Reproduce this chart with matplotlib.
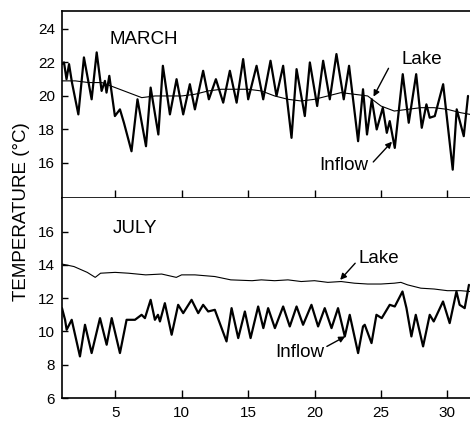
import matplotlib
matplotlib.use("Agg")
import matplotlib.pyplot as plt

plt.rcParams['font.family'] = ['Liberation Sans', 'DejaVu Sans']

# ---------------- data ----------------
march_inflow_day = [1.00, 1.15, 1.34, 1.53, 1.75, 2.23, 2.65, 3.23, 3.61, 3.98, 4.23, 4.35,
                    4.56, 4.98, 5.36, 5.66, 6.23, 6.68, 7.32, 7.67, 8.25, 8.59, 9.12, 9.62,
                    10.12, 10.62, 11.00, 11.62, 12.05, 12.58, 13.13, 13.63, 14.14, 14.63,
                    15.01, 15.64, 16.14, 16.69, 17.14, 17.64, 18.27, 18.65, 19.27, 19.65,
                    20.20, 20.65, 21.15, 21.65, 22.20, 22.60, 23.28, 23.65, 23.95, 24.31,
                    24.68, 25.14, 25.44, 25.66, 26.04, 26.64, 27.09, 27.65, 28.07, 28.42,
                    28.67, 29.05, 29.68, 30.40, 30.70, 31.23, 31.55]
march_inflow_t = [21.9, 22.0, 21.0, 21.9, 20.8, 18.9, 22.3, 19.8, 22.6, 20.3, 20.9, 20.2,
                  21.2, 18.8, 19.2, 18.4, 16.7, 19.8, 17.0, 20.5, 17.7, 21.8, 18.9, 21.0,
                  18.9, 20.7, 19.2, 21.5, 19.8, 21.0, 19.6, 21.5, 19.6, 22.2,
                  19.8, 21.8, 19.8, 22.1, 20.0, 21.8, 17.5, 21.6, 18.8, 22.0,
                  19.4, 22.1, 19.8, 22.5, 19.8, 21.8, 17.3, 20.4, 17.7, 19.8,
                  18.0, 19.3, 17.8, 18.5, 16.9, 21.3, 18.4, 21.3, 18.1, 19.5,
                  18.7, 18.8, 20.7, 15.6, 19.2, 17.6, 20.0]

march_lake_day = [1, 2, 3, 4, 5, 6, 7, 8, 9, 10, 11, 12, 13, 14, 15, 16, 17, 18, 19, 20,
                  21, 22, 23, 24, 25, 26, 27, 28, 29, 30, 31, 31.7]
march_lake_t = [20.9, 20.9, 20.8, 20.8, 20.5, 20.2, 19.9, 20.0, 20.0, 20.0, 20.1, 20.3,
                20.4, 20.4, 20.4, 20.3, 20.0, 19.8, 19.7, 19.8, 20.0, 20.2, 20.1, 20.0,
                19.4, 19.1, 19.2, 19.3, 19.3, 19.2, 19.0, 18.9]

july_inflow_day = [1.00, 1.23, 1.35, 1.73, 2.35, 2.73, 3.23, 3.86, 4.36, 4.74, 5.36, 5.86,
                   6.49, 6.99, 7.24, 7.67, 7.99, 8.22, 8.37, 8.74, 9.25, 9.74, 10.12, 10.75,
                   11.25, 11.62, 12.00, 12.50, 13.38, 13.76, 14.26, 14.76, 15.19, 15.76,
                   16.15, 16.51, 17.02, 17.64, 18.14, 18.65, 19.14, 19.77, 20.27, 20.77,
                   21.28, 21.77, 22.28, 22.65, 23.28, 23.65, 23.78, 24.29, 24.66, 25.06,
                   25.66, 26.04, 26.62, 26.92, 27.29, 27.62, 28.17, 28.67, 28.97, 29.67,
                   30.17, 30.68, 30.92, 31.30, 31.62]
july_inflow_t = [11.4, 10.7, 10.1, 10.7, 8.5, 10.4, 8.7, 10.8, 9.2, 10.8, 8.7, 10.7,
                 10.7, 11.0, 10.8, 11.9, 10.7, 11.0, 10.6, 11.7, 9.8, 11.6, 11.1, 11.9,
                 11.1, 11.6, 11.2, 11.3, 9.4, 11.4, 9.6, 11.2, 9.6, 11.5,
                 10.2, 11.4, 10.2, 11.5, 10.3, 11.5, 10.4, 11.6, 10.3, 11.4,
                 10.2, 11.4, 9.7, 11.0, 8.7, 10.3, 10.4, 9.3, 11.0, 10.8,
                 11.6, 11.5, 12.4, 11.4, 9.7, 11.0, 9.1, 11.0, 10.6, 11.8,
                 10.5, 12.4, 11.6, 11.4, 12.8]

july_lake_day = [1.0, 1.9, 2.9, 3.5, 3.9, 5.0, 6.0, 7.3, 8.5, 9.6, 10.0, 11.0, 12.5, 13.7,
                 15.3, 16.0, 17.0, 18.0, 19.0, 20.0, 21.0, 22.0, 23.0, 24.0, 25.0, 26.0,
                 26.5, 27.0, 28.0, 29.0, 30.0, 31.0, 31.7]
july_lake_t = [14.05, 13.9, 13.55, 13.25, 13.5, 13.55, 13.5, 13.4, 13.45, 13.25, 13.4, 13.4,
               13.3, 13.1, 13.05, 13.1, 13.05, 13.1, 13.0, 13.05, 12.95, 13.0, 12.9, 12.85,
               12.85, 12.9, 12.95, 12.8, 12.6, 12.55, 12.45, 12.45, 12.4]

x_ticks = [5, 10, 15, 20, 25, 30]
march_yticks = [16, 18, 20, 22, 24]
july_yticks = [6, 8, 10, 12, 14, 16]

# ---------------- figure ----------------
W, H = 470, 426
fig = plt.figure(figsize=(W / 100, H / 100), dpi=100)
left = 62 / W
width = 1 - left
ax1 = fig.add_axes([left, (H - 198) / H, width, 187 / H])
ax2 = fig.add_axes([left, (H - 398) / H, width, 200 / H])

xlim = (1.0, 31.7)
for ax in (ax1, ax2):
    ax.set_xlim(*xlim)
    ax.spines['right'].set_visible(False)
    for s in ('left', 'bottom', 'top'):
        ax.spines[s].set_linewidth(1.2)
    ax.set_xticks(x_ticks)
    ax.tick_params(axis='x', direction='in', length=6, width=1.0, top=False,
                   labelsize=11, pad=6)
    ax.tick_params(axis='y', direction='in', length=4, width=1.0, right=False,
                   labelsize=11, pad=5)

ax1.set_ylim(13.91, 25.07)
ax1.set_yticks(march_yticks)
ax1.tick_params(axis='x', labelbottom=False)
ax2.set_ylim(6, 18.02)
ax2.set_yticks(july_yticks)
ax2.spines['top'].set_visible(False)

line_kw = dict(color='black', solid_joinstyle='round', solid_capstyle='round')
ax1.plot(march_lake_day, march_lake_t, lw=0.8, **line_kw)
ax1.plot(march_inflow_day, march_inflow_t, lw=1.6, **line_kw)
ax2.plot(july_lake_day, july_lake_t, lw=0.8, **line_kw)
ax2.plot(july_inflow_day, july_inflow_t, lw=1.6, **line_kw)

ax1.text(4.56, 23.34, 'MARCH', fontsize=13.5, ha='left', va='center')
ax2.text(4.82, 16.16, 'JULY', fontsize=13.5, ha='left', va='center')

arrow = dict(arrowstyle='-|>', color='black', lw=1.0, mutation_scale=9,
             shrinkA=0, shrinkB=0)
ax1.text(28.1, 22.15, 'Lake', fontsize=13.5, ha='center', va='center')
ax1.annotate('', xy=(24.44, 19.96), xytext=(25.57, 21.65), arrowprops=arrow)
ax1.text(22.23, 15.82, 'Inflow', fontsize=13.5, ha='center', va='center')
ax1.annotate('', xy=(25.83, 17.27), xytext=(24.42, 16.06), arrowprops=arrow)

ax2.text(24.87, 14.36, 'Lake', fontsize=13.5, ha='center', va='center')
ax2.annotate('', xy=(21.93, 13.1), xytext=(23.06, 14.1), arrowprops=arrow)
ax2.text(18.92, 8.72, 'Inflow', fontsize=13.5, ha='center', va='center')
ax2.annotate('', xy=(22.31, 9.7), xytext=(20.93, 9.1), arrowprops=arrow)

fig.text(22 / W, 1 - 212 / H, 'TEMPERATURE (°C)', rotation=90, fontsize=13.5,
         ha='center', va='center')

fig.savefig('out.png', dpi=100)
